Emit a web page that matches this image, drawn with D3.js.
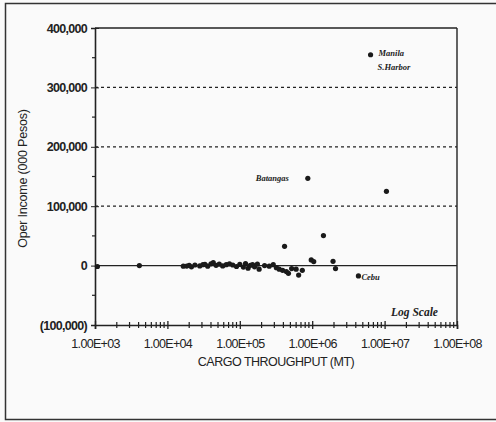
<!DOCTYPE html>
<html><head><meta charset="utf-8">
<script src="https://cdn.jsdelivr.net/npm/d3@7"></script>
<style>body{margin:0;background:#fafafa}svg{display:block}</style>
</head><body>
<script>
// Data (throughput in MT, operating income in 000 Pesos)
const throughput = [1080,4100,16600,18500,20000,21500,24000,28000,31000,33000,36000,40000,43000,47000,52000,58000,65000,72000,80000,90000,100000,112000,120000,130000,140000,150000,160000,175000,185000,220000,255000,290000,320000,350000,390000,415000,440000,470000,520000,600000,650000,730000,870000,970000,1050000,1430000,1940000,2100000,4350000,6400000,10600000];
const income     = [-1500,0,-1000,-800,500,-2000,1000,-500,1500,2000,-1000,3000,5000,500,2500,-500,1500,3000,1000,-1500,2000,-2500,3500,-4500,500,1500,-2000,2500,-6000,0,-1000,1500,-3500,-6000,-8000,32500,-10000,-13000,-5000,-6000,-16000,-8000,147000,9600,6700,50600,7200,-5000,-17400,355000,125000];
const labelNames = ["Manila", "S.Harbor", "Batangas", "Cebu"];
const yTicks = [-100000,0,100000,200000,300000,400000];
const xTicks = [1e3,1e4,1e5,1e6,1e7,1e8];
const xTickLabels = ["1.00E+03","1.00E+04","1.00E+05","1.00E+06","1.00E+07","1.00E+08"];

const W=496,H=422;
const svg=d3.select("body").append("svg").attr("width",W).attr("height",H);
svg.append("rect").attr("width",W).attr("height",H).attr("fill","#fafafa");
// outer frame
svg.append("rect").attr("x",5.5).attr("y",3.5).attr("width",520).attr("height",416)
  .attr("fill","none").attr("stroke","#333").attr("stroke-width",1.5);

const L=95,R=457,T=28,B=325;
const x=d3.scaleLog().domain([1e3,1e8]).range([L,R]);
const y=d3.scaleLinear().domain([-100000,400000]).range([B,T]);
const ink="#222";
const sans="Liberation Sans, Arial, sans-serif";

// gridlines dotted
[100000,200000,300000].forEach(v=>{
  svg.append("line").attr("x1",L).attr("x2",R).attr("y1",y(v)).attr("y2",y(v))
   .attr("stroke",ink).attr("stroke-width",1.3).attr("stroke-dasharray","3,3");
});
// zero line
svg.append("line").attr("x1",L).attr("x2",R).attr("y1",y(0)).attr("y2",y(0)).attr("stroke",ink).attr("stroke-width",1.4);
// frame: top and right
svg.append("line").attr("x1",L).attr("x2",R).attr("y1",T).attr("y2",T).attr("stroke",ink).attr("stroke-width",1.4);
svg.append("line").attr("x1",R).attr("x2",R).attr("y1",T).attr("y2",B).attr("stroke",ink).attr("stroke-width",1.4);

// Y axis
const yAxis=svg.append("g").attr("transform",`translate(${L},0)`)
 .call(d3.axisLeft(y).tickValues(yTicks).tickSize(4).tickPadding(4)
   .tickFormat(d=>d<0?`(${d3.format(",")(-d)})`:d3.format(",")(d)));
yAxis.select(".domain").attr("stroke",ink).attr("stroke-width",1.6);
yAxis.selectAll(".tick line").attr("stroke",ink).attr("x2",-4).attr("x1",4);
yAxis.selectAll("text").attr("fill",ink).attr("font-family",sans).attr("font-size",12.5).attr("font-weight","bold").attr("letter-spacing","-0.7");
// minor y ticks
svg.append("g").selectAll("line").data([-50000,50000,150000,250000,350000]).join("line")
 .attr("x1",L-3).attr("x2",L+1).attr("y1",d=>y(d)).attr("y2",d=>y(d)).attr("stroke",ink).attr("stroke-width",1.2);

// X axis
const xAxis=svg.append("g").attr("transform",`translate(0,${B})`)
 .call(d3.axisBottom(x).tickValues(xTicks).tickSize(4).tickPadding(10)
   .tickFormat((d,i)=>xTickLabels[i]));
xAxis.select(".domain").attr("stroke",ink).attr("stroke-width",1.6);
xAxis.selectAll(".tick line").attr("stroke",ink).attr("y1",-4).attr("y2",4).attr("stroke-width",1.3);
xAxis.selectAll("text").attr("fill",ink).attr("font-family",sans).attr("font-size",12.5).attr("letter-spacing","-0.7");
// minor x ticks
const minor=[];
for(let e=3;e<8;e++) for(let k=2;k<10;k++) minor.push(k*Math.pow(10,e));
svg.append("g").selectAll("line").data(minor).join("line")
 .attr("x1",d=>x(d)).attr("x2",d=>x(d)).attr("y1",B-3).attr("y2",B+3).attr("stroke",ink).attr("stroke-width",1.2);

// axis titles
svg.append("text").attr("transform",`translate(27,${(T+B)/2+2}) rotate(-90)`).attr("text-anchor","middle")
 .attr("font-family",sans).attr("font-size",12.5).attr("fill",ink).attr("letter-spacing","-0.2")
 .text("Oper Income (000 Pesos)");
svg.append("text").attr("x",(L+R)/2).attr("y",366).attr("text-anchor","middle")
 .attr("font-family",sans).attr("font-size",12.5).attr("fill",ink).attr("letter-spacing","-0.5")
 .text("CARGO THROUGHPUT (MT)");

// points
svg.append("g").selectAll("circle").data(throughput.map((t,i)=>[t,income[i]])).join("circle")
 .attr("cx",d=>x(d[0])).attr("cy",d=>y(d[1])).attr("r",2.6).attr("fill","#1a1a1a");

// annotations
const serif="Liberation Serif, Times New Roman, serif";
const ann=[
 {t:labelNames[0],x:x(6400000)+8,y:y(355000)+1,s:8.5},
 {t:labelNames[1],x:x(6400000)+7,y:y(355000)+15,s:8.5},
 {t:labelNames[2],x:x(870000)-52,y:y(147000)+3,s:8.5},
 {t:labelNames[3],x:x(4350000)+3,y:y(-17400)+4,s:8.5}
];
svg.append("g").selectAll("text").data(ann).join("text")
 .attr("x",d=>d.x).attr("y",d=>d.y).attr("font-family",serif).attr("font-style","italic").attr("font-weight","bold")
 .attr("font-size",d=>d.s).attr("fill",ink).text(d=>d.t);
svg.append("text").attr("x",391).attr("y",316).attr("font-family",serif).attr("font-style","italic").attr("font-weight","bold")
 .attr("font-size",11.5).attr("fill",ink).text("Log Scale");
</script>
</body></html>
